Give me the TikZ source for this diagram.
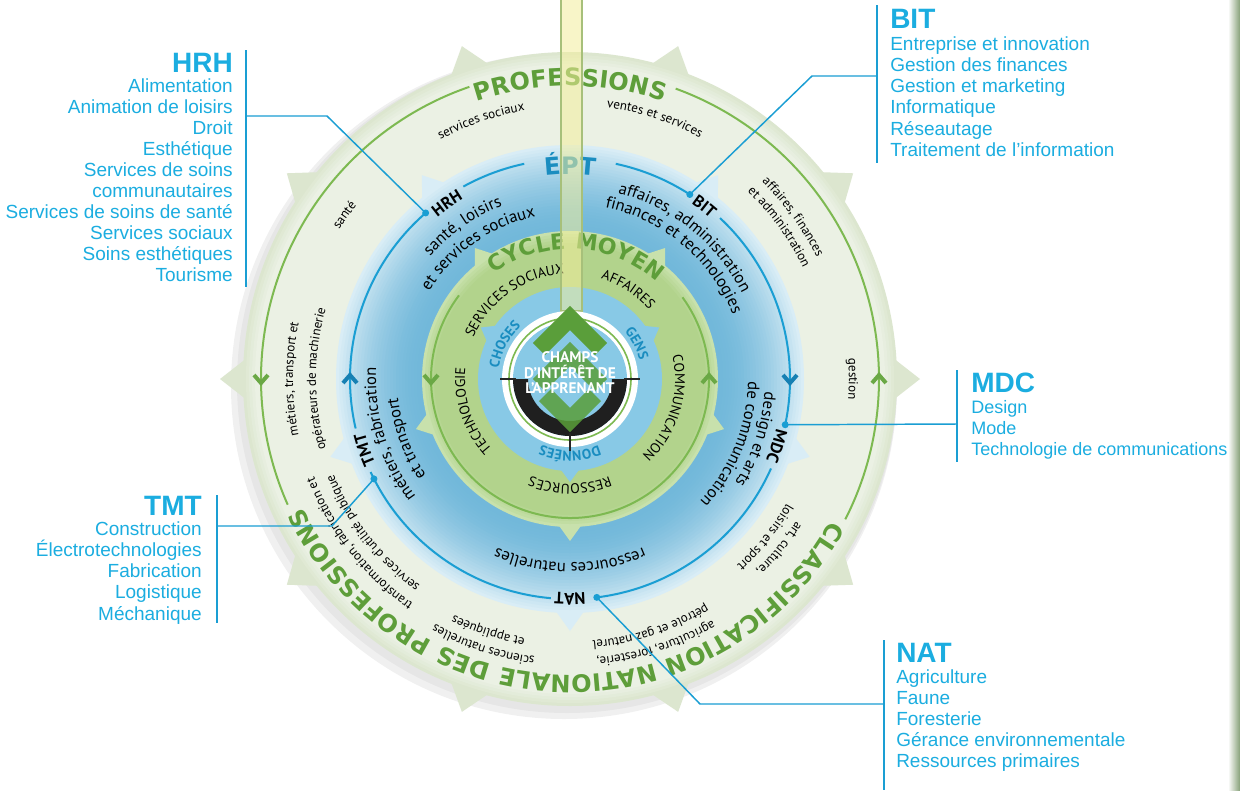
\documentclass[tikz,border=0pt]{standalone}
\usepackage{fontspec}
\setmainfont{Liberation Sans}
\newfontfamily\wheelfont{PT Sans}
\newfontfamily\heavyfont[LetterSpace=6]{DejaVu Sans}
\usetikzlibrary{decorations.text}

\definecolor{listblue}{HTML}{1BADE0}
\definecolor{lineblue}{HTML}{1A9ED3}
\definecolor{eptblue}{HTML}{1A8DC0}
\definecolor{chevblue}{HTML}{1680B3}
\definecolor{titlegreen}{HTML}{5E9E3A}
\definecolor{linegreen}{HTML}{7DB951}
\definecolor{chevgreen}{HTML}{6AA845}
\definecolor{outerin}{HTML}{EBF1E4}
\definecolor{outerrim}{HTML}{DCE6CF}
\definecolor{ringgreen}{HTML}{B2D38C}
\definecolor{ringlight}{HTML}{C8E1AC}
\definecolor{blueA}{HTML}{72B8DA}
\definecolor{blueD}{HTML}{D9EDF6}
\definecolor{coreblue}{HTML}{88C9E6}
\definecolor{barfill}{HTML}{F3EE9C}
\definecolor{barline}{HTML}{A7C07A}
\definecolor{emblemgreen}{HTML}{5A9E3A}
\definecolor{stripgreen}{HTML}{86A078}

\newcommand\outerfmt{\wheelfont\fontsize{9.75}{11}\selectfont}
\newcommand\bluefmt{\wheelfont\fontsize{12.5}{14}\selectfont}
\newcommand\codefmt{\wheelfont\bfseries\fontsize{12.5}{14}\selectfont}
\newcommand\greenfmt{\wheelfont\fontsize{10.5}{12}\selectfont}
\newcommand\corefmt{\wheelfont\bfseries\fontsize{10.5}{12}\selectfont\color{eptblue}}
\newcommand\titlefmt{\heavyfont\bfseries\fontsize{18}{20}\selectfont\color{titlegreen}}
\newcommand\eptfmt{\heavyfont\bfseries\fontsize{18}{20}\selectfont\color{eptblue}}
\newcommand\cyclefmt{\heavyfont\bfseries\fontsize{16.5}{18}\selectfont\color{titlegreen}}

% text on a clockwise arc: format, radius, centre angle, half span, text
\newcommand{\arctext}[5]{%
  \path[decorate, decoration={text along path, text align=center, text={|#1|#5}}]
    ({#3+#4}:#2) arc[start angle={#3+#4}, end angle={#3-#4}, radius=#2];}
\newcommand{\chevup}[2]{\draw[chev, #1] (#2) +(-7,-4) -- +(0,4) -- +(7,-4);}
\newcommand{\chevdown}[2]{\draw[chev, #1] (#2) +(-7,4) -- +(0,-4) -- +(7,4);}

\begin{document}
\begin{tikzpicture}[x=0.75pt, y=0.75pt,
  chev/.style={line width=3pt, line join=miter},
  callout/.style={lineblue, line width=1.1pt},
  listtitle/.style={text=listblue, font=\bfseries\fontsize{21}{21}\selectfont, inner sep=0pt},
  listitem/.style={text=listblue, font=\fontsize{14.25}{16}\selectfont, inner sep=0pt}]

\useasboundingbox (0,0) rectangle (1240,-790);
\fill[white] (0,0) rectangle (1240,-790);
\shade[left color=white, right color=stripgreen] (1228,0) rectangle (1240,-790);

\begin{scope}[shift={(570,-379)}]
  % outer ring
  \fill[black, opacity=0.06] (-6,-7) circle[radius=333];
  \fill[black, opacity=0.04] (-3,-4) circle[radius=330];
  \foreach \a in {0,36,...,324}
    \fill[outerrim] ({\a-4}:322) -- (\a:350) -- ({\a+4}:322) -- cycle;
  \fill[outerrim] (0,0) circle[radius=327];
  \foreach \r/\p in {324/25, 321/50, 318/75, 315/100}
    \fill[outerin!\p!outerrim] (0,0) circle[radius=\r];
  \foreach \s/\e in {-27/70, 109/204}
    \draw[linegreen, line width=1.5pt] (\s:309) arc[start angle=\s, end angle=\e, radius=309];
  \chevup{chevgreen}{0:309}
  \chevdown{chevgreen}{180:309}

  \arctext{\outerfmt}{272}{109}{25}{services sociaux}
  \arctext{\outerfmt}{274}{72}{25}{ventes et services}
  \arctext{\outerfmt}{275}{144}{20}{santé}
  \arctext{\outerfmt}{275}{36}{25}{affaires, finances}
  \arctext{\outerfmt}{258}{36}{25}{et administration}
  \arctext{\outerfmt}{279}{0}{20}{gestion}
  \arctext{\outerfmt}{267}{-39}{25}{art, culture,}
  \arctext{\outerfmt}{250}{-39}{25}{loisirs et sport}
  \arctext{\outerfmt}{280}{-72}{25}{agriculture, foresterie,}
  \arctext{\outerfmt}{263}{-72}{25}{pétrole et gaz naturel}
  \arctext{\outerfmt}{280}{-108}{25}{sciences naturelles}
  \arctext{\outerfmt}{263}{-108}{25}{et appliquées}
  \arctext{\outerfmt}{274}{-142}{25}{transformation, fabrication et}
  \arctext{\outerfmt}{255}{-142}{25}{services d’utilité publique}
  \arctext{\outerfmt}{277}{180}{25}{métiers, transport et}
  \arctext{\outerfmt}{254}{180}{25}{opérateurs de machinerie}
  \arctext{\titlefmt}{293}{90}{60}{PROFESSIONS}
  \arctext{\titlefmt}{296}{-91.5}{85}{CLASSIFICATION NATIONALE DES PROFESSIONS}

  % EPT ring
  \foreach \a in {-90,-18,54,126,198}
    \fill[blueD] ({\a-4}:230) -- (\a:252) -- ({\a+4}:230) -- cycle;
  \foreach \r in {234,231,...,150}{
    \pgfmathtruncatemacro\p{100*((\r-150)/84)^1.7}
    \fill[blueD!\p!blueA] (0,0) circle[radius=\r];}
  \foreach \s/\e in {102/119, 131/193, 205/265, 277/336, 348/407, 417/438}
    \draw[lineblue, line width=1.5pt] (\s:220) arc[start angle=\s, end angle=\e, radius=220];
  \chevup{chevblue}{180:220}
  \chevdown{chevblue}{0:220}
  \coordinate (hrhdot) at (131:220);
  \coordinate (bitdot) at (57:220);
  \coordinate (mdcdot) at (348:220);
  \coordinate (natdot) at (277:220);
  \coordinate (tmtdot) at (207:220);
  \foreach \d in {hrhdot, bitdot, mdcdot, natdot, tmtdot}
    \fill[lineblue] (\d) circle[radius=3.5];

  \arctext{\eptfmt}{205}{90}{25}{ÉPT}
  \arctext{\codefmt}{209}{125}{20}{HRH}
  \arctext{\bluefmt}{186}{125}{35}{santé, loisirs}
  \arctext{\bluefmt}{166}{125}{40}{et services sociaux}
  \arctext{\codefmt}{213}{52}{20}{BIT}
  \arctext{\bluefmt}{192}{51}{35}{affaires, administration}
  \arctext{\bluefmt}{175}{50}{40}{finances et technologies}
  \arctext{\codefmt}{212}{-18}{20}{MDC}
  \arctext{\bluefmt}{195}{-18}{35}{design et arts}
  \arctext{\bluefmt}{178}{-22}{40}{de communication}
  \arctext{\codefmt}{214}{-90}{20}{NAT}
  \arctext{\bluefmt}{184}{-90}{40}{ressources naturelles}
  \arctext{\codefmt}{212}{199}{20}{TMT}
  \arctext{\bluefmt}{194}{197}{35}{métiers, fabrication}
  \arctext{\bluefmt}{173}{200}{40}{et transport}

  % cycle moyen ring
  \foreach \a in {-90,-18,54,126,198}
    \fill[ringlight] ({\a-5}:145) -- (\a:162) -- ({\a+5}:145) -- cycle;
  \fill[ringlight] (0,0) circle[radius=148];
  \foreach \r/\p in {145/30, 142/55, 139/80, 136/100}
    \fill[ringgreen!\p!ringlight] (0,0) circle[radius=\r];
  \draw[linegreen, line width=1.5pt] (36:139) arc[start angle=36, end angle=-217, radius=139];
  \chevdown{chevgreen}{180:139}
  \chevup{chevgreen}{0:139}
  \arctext{\cyclefmt}{130}{87}{70}{CYCLE MOYEN}
  \arctext{\greenfmt}{105}{125}{45}{SERVICES SOCIAUX}
  \arctext{\greenfmt}{105}{57}{40}{AFFAIRES}
  \arctext{\greenfmt}{105}{-17}{45}{COMMUNICATION}
  \arctext{\greenfmt}{105}{-90}{45}{RESSOURCES}
  \arctext{\greenfmt}{105}{198}{45}{TECHNOLOGIE}

  % core
  \foreach \a in {-90,30,150}
    \fill[coreblue] ({\a-7}:89) -- (\a:103) -- ({\a+7}:89) -- cycle;
  \fill[coreblue] (0,0) circle[radius=92];
  \arctext{\corefmt}{72}{152}{35}{CHOSES}
  \arctext{\corefmt}{72}{28}{35}{GENS}
  \arctext{\corefmt}{72}{-90}{35}{DONNÉES}

  \filldraw[fill=barfill, fill opacity=0.55, draw=barline, line width=1.2pt] (-9,68) rectangle (12,381);

  % emblem
  \fill[white] (0,0) circle[radius=68];
  \draw[linegreen, line width=1.2pt] (0,0) circle[radius=61];
  \fill[coreblue] (0,0) circle[radius=57];
  \fill[black!88] (-57,0) arc[start angle=180, end angle=360, radius=57] -- (42,0)
    arc[start angle=0, end angle=-180, radius=42] -- cycle;
  \draw[black!85, line width=1pt] (-70,0) -- (-54,0) (54,0) -- (70,0) (0,-54) -- (0,-72);
  \draw[emblemgreen, line width=12.75pt, line join=miter] (-31,30) -- (0,61) -- (31,30);
  \draw[emblemgreen, line width=12.75pt, line join=miter, opacity=0.85] (-31,-6) -- (0,25) -- (31,-6);
  \draw[emblemgreen, line width=12.75pt, line join=miter, opacity=0.85] (-25,-16) -- (0,-41) -- (25,-16);
  \node[text=white, align=center, inner sep=0pt, font=\wheelfont\bfseries\fontsize{11.5}{11.6}\selectfont]
    (champs) at (0,6) {CHAMPS\\D’INTÉRÊT DE\\L’APPRENANT};
\end{scope}

% callouts
\coordinate (hrhbend) at (327,-116);  \coordinate (hrhend) at (246,-116);
\coordinate (hrhtop) at (246,-50);    \coordinate (hrhbot) at (246,-287);
\coordinate (bitbend) at (812,-76);   \coordinate (bitend) at (877,-76);
\coordinate (bittop) at (877,-5);     \coordinate (bitbot) at (877,-163);
\coordinate (mdcend) at (957,-424);
\coordinate (mdctop) at (957,-370);   \coordinate (mdcbot) at (957,-462);
\coordinate (tmtbend) at (332,-526);  \coordinate (tmtend) at (217,-526);
\coordinate (tmttop) at (217,-495);   \coordinate (tmtbot) at (217,-623);
\coordinate (natbend) at (700,-704);  \coordinate (natend) at (884,-704);
\coordinate (nattop) at (884,-640);   \coordinate (natbot) at (884,-790);

\draw[callout] (hrhdot) -- (hrhbend) -- (hrhend);
\draw[callout] (bitdot) -- (bitbend) -- (bitend);
\draw[callout] (mdcdot) -- (mdcend);
\draw[callout] (tmtdot) -- (tmtbend) -- (tmtend);
\draw[callout] (natdot) -- (natbend) -- (natend);
\foreach \c in {hrh, bit, mdc, tmt, nat}
  \draw[callout] (\c top) -- (\c bot);

% lists
\node[listtitle, anchor=base east] (hrhtitle) at (233,-72) {HRH};
\foreach \t [count=\i] in {Alimentation, Animation de loisirs, Droit, Esthétique,
    Services de soins, communautaires, Services de soins de santé, Services sociaux,
    Soins esthétiques, Tourisme}
  \node[listitem, anchor=base east] (hrh\i) at (233,{-92-21.1*(\i-1)}) {\t};

\node[listtitle, anchor=base west] (bittitle) at (890,-28) {BIT};
\foreach \t [count=\i] in {Entreprise et innovation, Gestion des finances,
    Gestion et marketing, Informatique, Réseautage, Traitement de l’information}
  \node[listitem, anchor=base west] (bit\i) at (890,{-50-21.3*(\i-1)}) {\t};

\node[listtitle, anchor=base west] (mdctitle) at (971,-392) {MDC};
\foreach \t [count=\i] in {Design, Mode, Technologie de communications}
  \node[listitem, font=\fontsize{13.5}{16}\selectfont, anchor=base west] (mdc\i) at (971,{-413-21*(\i-1)}) {\t};

\node[listtitle, anchor=base east] (tmttitle) at (202,-515) {TMT};
\foreach \t [count=\i] in {Construction, Électrotechnologies, Fabrication, Logistique, Méchanique}
  \node[listitem, anchor=base east] (tmt\i) at (202,{-535-21.3*(\i-1)}) {\t};

\node[listtitle, anchor=base west] (nattitle) at (896,-662) {NAT};
\foreach \t [count=\i] in {Agriculture, Faune, Foresterie, Gérance environnementale,
    Ressources primaires}
  \node[listitem, anchor=base west] (nat\i) at (896,{-683-21.2*(\i-1)}) {\t};
\end{tikzpicture}
\end{document}
